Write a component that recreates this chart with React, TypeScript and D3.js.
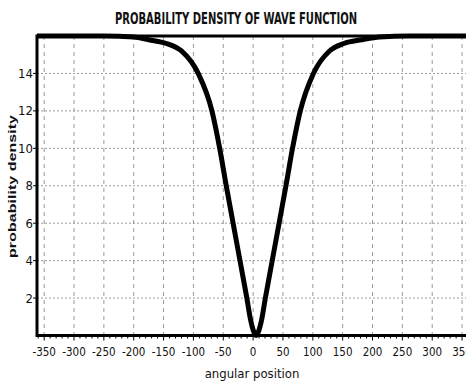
import * as d3 from "d3";

// curve
const angles = [-362, -250, -200, -175, -145, -120, -92, -69, -56, -45, -33.5, -22, -10.5, -4, 0, 5, 10, 14, 20.5, 32, 43.5, 55, 66, 79, 101, 128, 152, 182, 212, 260, 362];
const density = [16, 16, 15.95, 15.8, 15.6, 15.2, 14, 12, 10, 8, 6, 4, 2, 0.8, 0.3, 0, 0.3, 0.8, 2, 4, 6, 8, 10, 12, 14, 15.2, 15.6, 15.8, 15.95, 16, 16];

const xTicks = [-350, -300, -250, -200, -150, -100, -50, 0, 50, 100, 150, 200, 250, 300, 350];
const yTicks = [2, 4, 6, 8, 10, 12, 14];

const W = 466;
const H = 387;
const margin = { top: 36, left: 37, bottom: 335.5 };
const narrow = "'Liberation Sans Narrow', 'DejaVu Sans Condensed', 'Arial Narrow', sans-serif";

export default function App() {
  const x = d3.scaleLinear().domain([-362, 362]).range([margin.left, margin.left + 724 * 0.597]);
  const y = d3.scaleLinear().domain([0, 16]).range([margin.bottom, margin.top]);

  const pts = angles.map((a, i) => [a, density[i]] as [number, number]);
  const line = d3
    .line<[number, number]>()
    .x((d) => x(d[0]))
    .y((d) => y(d[1]))
    .curve(d3.curveMonotoneX);

  const minor = d3.range(-360, 361, 10);
  const right = x(362);

  return (
    <svg width={W} height={H} style={{ position: "absolute", left: 0, top: 0, background: "#fff" }}>
      <text x={236} y={24} textAnchor="middle" fontFamily={narrow} fontSize={16} fontWeight={600} textLength={242} lengthAdjust="spacingAndGlyphs" fill="#111">
        PROBABILITY DENSITY OF WAVE FUNCTION
      </text>

      {/* grid */}
      {xTicks.map((t) => (
        <line key={"gx" + t} x1={x(t)} x2={x(t)} y1={margin.top} y2={margin.bottom} stroke="#9a9a9a" strokeDasharray="4,4" />
      ))}
      {yTicks.map((t) => (
        <line key={"gy" + t} x1={margin.left} x2={right} y1={y(t)} y2={y(t)} stroke="#9a9a9a" strokeDasharray="2,2" />
      ))}

      {/* frame */}
      <line x1={margin.left} x2={right} y1={margin.top} y2={margin.top} stroke="#000" strokeWidth={3} />
      <line x1={margin.left} x2={right} y1={margin.bottom} y2={margin.bottom} stroke="#000" strokeWidth={3} />
      <line x1={margin.left} x2={margin.left} y1={margin.top - 1.5} y2={margin.bottom + 1.5} stroke="#000" strokeWidth={3} />

      {/* bottom ticks */}
      {minor.map((t) => (
        <line key={"mt" + t} x1={x(t)} x2={x(t)} y1={margin.bottom} y2={margin.bottom + (t % 50 === 0 ? 5 : 3)} stroke="#000" />
      ))}
      {xTicks.map((t) => (
        <text key={"xl" + t} x={x(t)} y={356} textAnchor="middle" fontFamily={narrow} fontSize={11.5} fill="#111">
          {t}
        </text>
      ))}

      {/* left ticks */}
      {yTicks.map((t) => (
        <g key={"yl" + t}>
          <line x1={margin.left - 4} x2={margin.left} y1={y(t)} y2={y(t)} stroke="#000" />
          <text x={margin.left - 4} y={y(t) + 4.5} textAnchor="end" fontFamily={narrow} fontSize={13} fill="#111">
            {t}
          </text>
        </g>
      ))}

      <text x={252} y={378} textAnchor="middle" fontFamily={narrow} fontSize={13} fill="#111">
        angular position
      </text>
      <text
        transform={`translate(16,${186.5}) rotate(-90)`}
        textAnchor="middle"
        fontFamily="'Liberation Sans', Arial, sans-serif"
        fontWeight="bold"
        fontSize={11.5}
        textLength={143}
        lengthAdjust="spacingAndGlyphs"
        fill="#111"
      >
        probability density
      </text>

      <path d={line(pts) ?? ""} fill="none" stroke="#000" strokeWidth={5} strokeLinejoin="round" />
    </svg>
  );
}
